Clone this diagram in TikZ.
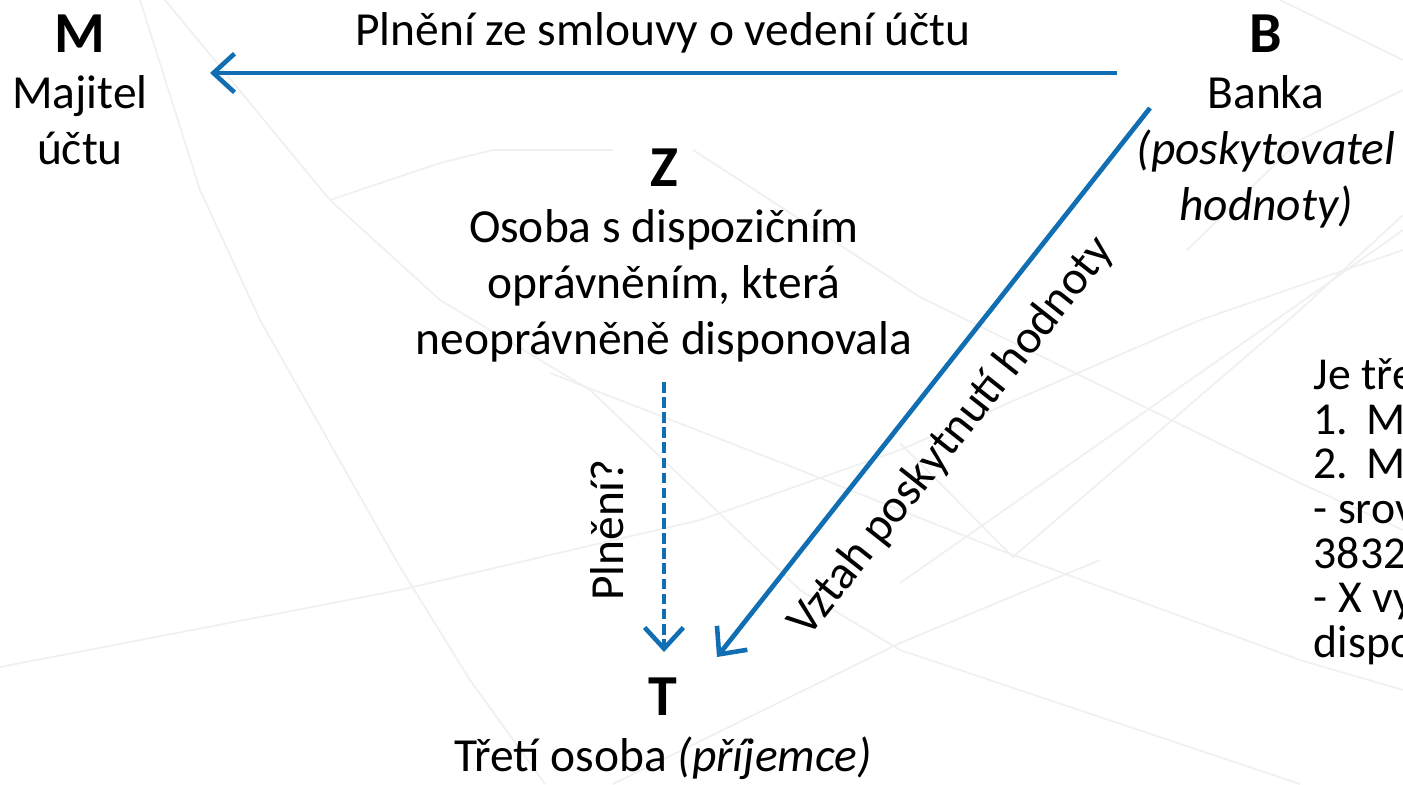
\documentclass[tikz,border=0pt]{standalone}
\usepackage{fontspec}
\setmainfont{Carlito}
\usetikzlibrary{positioning}
\usetikzlibrary{arrows.meta}
\definecolor{blue}{RGB}{17,110,178}
\definecolor{gray}{RGB}{240,240,240}
\newcommand{\partyletter}[1]{{\fontsize{16.5}{15.9}\selectfont\textbf{#1}}}

\begin{document}
\begin{tikzpicture}[x=0.01cm, y=-0.01cm, node distance=0cm, >={Straight Barb[length=6pt,width=11pt,line width=1.3pt]},
who/.style={align=center, inner sep=0pt, font=\fontsize{13.5}{15.9}\selectfont},
note/.style={align=left, inner sep=0pt, font=\fontsize{13}{12.7}\selectfont},
flow/.style={blue, line width=1.35pt, ->}]

\useasboundingbox (0,0) rectangle (1403,784);
\clip (0,0) rectangle (1403,784);

% faint background lines
\begin{scope}[gray, line width=0.5pt]
\draw (140,0) -- (200,190) -- (260,320) -- (400,567) -- (470,680) -- (545,784);
\draw (165,0) -- (330,200) -- (440,300) -- (590,390) -- (800,590) -- (900,650) -- (1300,784);
\draw (0,667) -- (400,590) -- (700,520) -- (900,450) -- (1200,320) -- (1403,250);
\draw (550,373) -- (800,470) -- (1000,550) -- (1300,660) -- (1403,690);
\draw (693,150) -- (920,297) -- (1300,483) -- (1403,530);
\draw (900,583) -- (1300,303) -- (1403,230);
\draw (900,443) -- (1013,557) -- (1300,310) -- (1403,215);
\draw (1280,0) -- (1403,60);
\draw (1187,250) -- (1300,140) -- (1403,90);
\draw (330,200) -- (440,163) -- (493,150) -- (613,150);
\draw (613,784) -- (900,643) -- (1100,560);
\end{scope}

\node [who, anchor=north] (M) at (80,14) {\partyletter{M}\\Majitel\\účtu};
\node [who, anchor=north] (B) at (1266,14) {\partyletter{B}\\Banka\\\textit{(poskytovatel}\\\textit{hodnoty)}};
\node [who, anchor=north] (Z) at (664,148) {\partyletter{Z}\\Osoba s dispozičním\\oprávněním, která\\neoprávněně disponovala};
\node [who, anchor=north] (T) at (663,677) {\partyletter{T}\\Třetí osoba \textit{(příjemce)}};

\coordinate (mb1) at (1117,73);
\coordinate (mb2) at (210,73);
\coordinate (bt1) at (1150,108);
\coordinate (bt2) at (717,657);
\coordinate (zt1) at (664,382);
\coordinate (zt2) at (664,652);

\draw [flow] (mb1) -- (mb2);
\draw [flow] (bt1) -- (bt2);
\draw [flow, dash pattern=on 3pt off 1.3pt] (zt1) -- (zt2);

\node [who, anchor=base] (smlouva) at (663,45) {Plnění ze smlouvy o vedení účtu};
\node [who, rotate=90] (plneni) at (607,530) {Plnění?};
\node [who, rotate=51.7] (vztah) at (952,437) {Vztah poskytnutí hodnoty};

\node [note, anchor=north west] (txt) at (1313,358) {Je tře\\\makebox[15pt][l]{1.}M\\\makebox[15pt][l]{2.}M\\- srov\\3832\\- X vy\\dispo};

\end{tikzpicture}
\end{document}
